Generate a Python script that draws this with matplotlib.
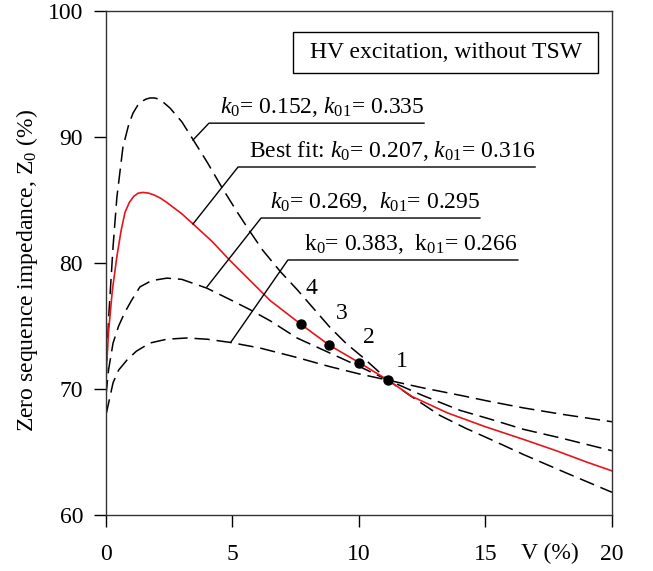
import matplotlib
matplotlib.use("Agg")
import matplotlib.pyplot as plt
from matplotlib.patches import Rectangle
import matplotlib.transforms as mtransforms

plt.rcParams['font.family'] = ['Liberation Serif', 'DejaVu Serif']
plt.rcParams['mathtext.fontset'] = 'custom'
plt.rcParams['mathtext.rm'] = 'Liberation Serif'
plt.rcParams['mathtext.it'] = 'Liberation Serif:italic'

# ---- data ----
x_c1 = [0, 0.1, 0.28, 0.43, 0.67, 0.9, 1.07, 1.25, 1.4, 1.57, 1.74, 1.92, 2.1, 2.3, 2.53, 3.0, 3.44, 4.0,
        4.58, 5.2, 5.69, 6.2, 6.9, 7.55, 8.2, 8.85, 9.5, 10.16, 11.15, 12.0, 13.2, 14.2, 15.2, 16.5, 18.0, 20.0]
y_c1 = [70.5, 75.5, 81.3, 85.2, 89.2, 91.0, 91.9, 92.5, 92.8, 93.0, 93.1, 93.1, 93.0, 92.7, 92.3, 91.2, 89.8, 88.0,
        86.0, 84.0, 82.5, 81.0, 79.3, 77.9, 76.4, 74.9, 73.6, 72.5, 70.7, 69.5, 67.9, 66.9, 66.0, 64.8, 63.5, 61.8]

x_fit = [0, 0.1, 0.25, 0.43, 0.6, 0.75, 0.92, 1.1, 1.28, 1.46, 1.68, 1.9, 2.15, 2.41, 3.0, 3.44, 4.2, 4.9,
         5.7, 6.5, 7.69, 8.81, 10.0, 11.15, 12.1, 13.5, 15.0, 16.5, 17.8, 19.0, 20.0]
y_fit = [71.0, 74.5, 77.8, 80.5, 82.6, 84.0, 84.8, 85.3, 85.55, 85.6, 85.55, 85.4, 85.15, 84.8, 83.9, 83.1, 81.7, 80.2,
         78.6, 77.0, 75.16, 73.5, 72.1, 70.7, 69.4, 68.1, 67.0, 66.0, 65.1, 64.2, 63.5]

x_c3 = [0, 0.1, 0.28, 0.5, 0.75, 1.0, 1.34, 1.8, 2.41, 3.0, 3.99, 4.9, 5.69, 6.5, 7.55, 8.8,
        10.0, 11.15, 12.5, 14.0, 15.2, 16.5, 18.0, 20.0]
y_c3 = [69.5, 71.5, 73.65, 75.0, 76.1, 77.0, 78.1, 78.6, 78.8, 78.7, 78.0, 77.1, 76.3, 75.4, 74.05, 72.9,
        71.8, 70.7, 69.5, 68.3, 67.6, 66.8, 66.1, 65.1]

x_c4 = [0, 0.04, 0.28, 0.5, 0.83, 1.2, 1.74, 2.4, 3.2, 4.0, 4.9, 6.09, 7.55, 8.8, 10.0, 11.15,
        12.5, 14.0, 15.2, 16.5, 18.0, 20.0]
y_c4 = [68.0, 68.3, 70.5, 71.5, 72.3, 73.0, 73.65, 73.95, 74.05, 73.95, 73.7, 73.25, 72.5, 71.8, 71.2, 70.7,
        70.1, 69.5, 69.0, 68.5, 68.0, 67.4]

pts_x = [11.15, 10.0, 8.81, 7.69]
pts_y = [70.7, 72.1, 73.5, 75.16]
pts_lab = ['1', '2', '3', '4']

curve_labels = [r'$k_0$= 0.152, $k_{01}$= 0.335',
                r'Best fit: $k_0$= 0.207, $k_{01}$= 0.316',
                r'$k_0$= 0.269,  $k_{01}$= 0.295',
                r'k$_0$= 0.383,  k$_{01}$= 0.266']

x_ticks = [0, 5, 10, 15, 20]
y_ticks = [60, 70, 80, 90, 100]

# ---- figure ----
fig = plt.figure(figsize=(6.53, 5.71), dpi=100)
ax = fig.add_axes([0.1623, 0.0981, 0.7749, 0.8826])

FS = 17
dash = (10, 4.5)
ax.plot(x_c1, y_c1, color='black', lw=1.1, dashes=dash)
ax.plot(x_c3, y_c3, color='black', lw=1.1, dashes=dash)
ax.plot(x_c4, y_c4, color='black', lw=1.1, dashes=dash)
ax.plot(x_fit, y_fit, color='#e8141c', lw=1.2)
ax.plot(pts_x, pts_y, 'o', color='black', ms=6.5, zorder=5)

# point labels
lab_off = [(0.55, 1.45), (0.4, 1.95), (0.5, 2.5), (0.45, 2.85)]
for px, py, t, (dx, dy) in zip(pts_x, pts_y, pts_lab, lab_off):
    ax.text(px + dx, py + dy, t, fontsize=FS, ha='center', va='center')

# leader annotations: (line start x, line end x, line y, target x, target y)
leaders = [(4.07, 12.57, 91.1, 3.44, 89.76),
           (5.22, 16.96, 87.62, 3.44, 83.1),
           (6.13, 14.78, 83.57, 3.99, 78.1),
           (7.19, 16.28, 80.24, 4.94, 73.73)]
for (x0, x1, yl, tx, ty), lab in zip(leaders, curve_labels):
    ax.plot([tx, x0, x1], [ty, yl, yl], color='black', lw=1.0)
    ax.text(x1, yl + 0.35, lab, fontsize=FS, ha='right', va='bottom')

# title box
ax.add_patch(Rectangle((7.39, 95.08), 12.06, 3.25, fill=False, ec='black', lw=1.0))
ax.text(13.42, 96.7, 'HV excitation, without TSW', fontsize=FS, ha='center', va='center')

ax.set_xlim(0, 20)
ax.set_ylim(60, 100)
ax.set_xticks(x_ticks)
ax.set_yticks(y_ticks)
ax.tick_params(direction='out', length=8.5, width=1.0, labelsize=FS, top=False, right=False)
ax.tick_params(axis='x', pad=12.5)
ax.tick_params(axis='y', pad=8)
for s in ax.spines.values():
    s.set_linewidth(1.0)
    s.set_color('#333333')

ax.set_ylabel('Zero sequence impedance, Z$_0$ (%)', fontsize=FS)
ax.yaxis.set_label_coords(-0.13, 0.485)

trans = mtransforms.blended_transform_factory(ax.transData, ax.transAxes)
ax.text(17.55, -0.0754, 'V (%)', transform=trans, fontsize=FS, ha='center', va='center')

fig.savefig('out.png', dpi=100)
